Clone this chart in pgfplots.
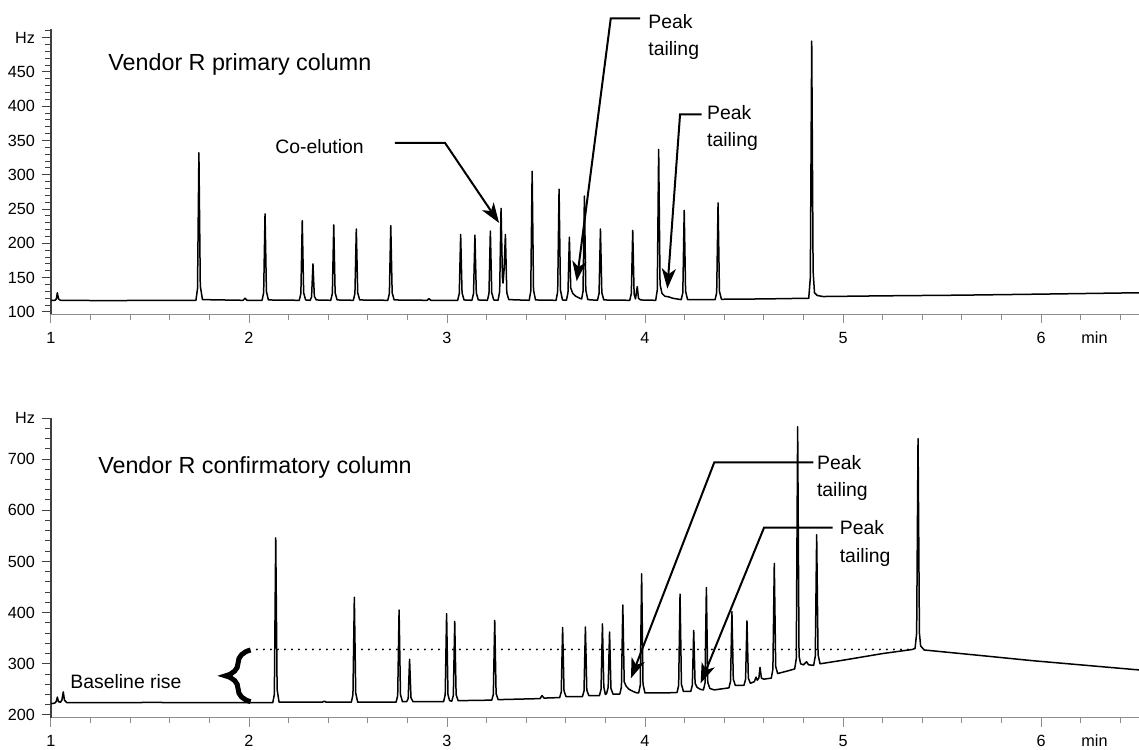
\documentclass[border=0pt]{standalone}
\usepackage{pgfplots}
\pgfplotsset{compat=1.18}
\usepackage{fontspec}
\setmainfont{Liberation Sans}
\usetikzlibrary{arrows.meta,decorations.pathreplacing}

\newcommand\tickfont{\fontsize{8.1}{9.5}\selectfont}
\newcommand\titlefont{\fontsize{11.65}{14}\selectfont}
\newcommand\notefont{\fontsize{9.7}{13.4}\selectfont}

\tikzset{note/.style={line width=1pt, -{Stealth[length=10pt,width=7pt,inset=2.8pt]}}}
\pgfplotsset{
  chrom/.style={
    scale only axis, width=544pt, anchor=south west,
    axis x line*=bottom, axis y line*=left,
    x axis line style={-, black!45, line width=0.65pt},
    y axis line style={-, black!75, line width=0.6pt},
    x tick style={black!45, line width=0.5pt},
    y tick style={black!75, line width=0.5pt},
    tick align=outside,
    major tick length=4.5pt, minor tick length=2.8pt,
    xmin=1, xmax=6.495,
    xtick={1,2,3,4,5,6}, xticklabels={1,2,3,4,5,6},
    minor xtick={1.2,1.4,1.6,1.8,2.2,2.4,2.6,2.8,3.2,3.4,3.6,3.8,4.2,4.4,4.6,4.8,5.2,5.4,5.6,5.8,6.2,6.4},
    ticklabel style={font=\tickfont},
    xticklabel style={anchor=base, yshift=-10pt},
    /pgf/number format/assume math mode=true,
    clip=false,
  },
  trace/.style={black, line width=0.75pt, line join=round, mark=none},
}

\begin{document}
\begin{tikzpicture}
\useasboundingbox (0,0) rectangle (569.5pt,374.5pt);

% ---- primary column
\begin{axis}[chrom, at={(25.5pt,217.35pt)}, height=142.8pt,
  ymin=96.6, ymax=513,
  ytick={100,150,200,250,300,350,400,450,500},
  yticklabels={100,150,200,250,300,350,400,450,Hz},
  minor ytick={110,120,130,140,160,170,180,190,210,220,230,240,260,270,280,290,310,320,330,340,360,370,380,390,410,420,430,440,460,470,480,490,510},
]
\addplot[trace] coordinates {
(1.000,117)(1.020,117)(1.027,119)(1.032,128)(1.038,119)(1.048,117)
(1.30,116.5)(1.5,117)
(1.732,117)(1.740,134)(1.747,332)(1.754,138)(1.765,118)
(1.97,117)(1.98,120)(1.99,117)
(2.066,117)(2.074,128)(2.081,243)(2.088,130)(2.098,117.5)
(2.254,117)(2.262,127)(2.269,233)(2.276,128)(2.286,117.5)
(2.309,117)(2.316,122)(2.323,170)(2.330,123)(2.340,117.5)
(2.413,117)(2.421,127)(2.428,227)(2.435,128)(2.445,117.5)
(2.527,117)(2.535,127)(2.542,221)(2.549,128)(2.559,117.5)
(2.701,117)(2.709,127)(2.716,226)(2.723,128)(2.733,117.5)
(2.900,117)(2.909,119.5)(2.918,117)
(3.054,117)(3.062,127)(3.069,213)(3.076,128)(3.086,117.5)
(3.126,117)(3.134,127)(3.141,212)(3.148,128)(3.158,117.5)
(3.204,117)(3.212,127)(3.219,218)(3.226,128)(3.236,117.5)
(3.258,117)(3.266,130)(3.273,251)(3.280,150)(3.283,142)(3.288,160)(3.295,213)(3.302,128)(3.312,118)
(3.415,117)(3.423,130)(3.430,305)(3.437,132)(3.447,117.5)
(3.551,117)(3.559,130)(3.566,279)(3.573,132)(3.583,117.5)
(3.603,117)(3.611,128)(3.618,209)(3.625,135)(3.635,127)(3.650,123)(3.670,120)(3.680,119)
(3.687,130)(3.694,269)(3.701,132)(3.711,118)
(3.760,117)(3.768,127)(3.775,221)(3.782,128)(3.792,117.5)
(3.923,117)(3.931,127)(3.938,219)(3.945,126)(3.952,119)(3.961,137)(3.967,120)(3.978,117.5)
(4.054,117)(4.062,132)(4.069,337)(4.076,140)(4.086,127)(4.100,123)(4.120,122)(4.140,120)(4.160,119)(4.183,118)
(4.191,128)(4.198,248)(4.205,130)(4.215,118)
(4.354,118)(4.362,128)(4.369,259)(4.376,130)(4.386,118.5)
(4.600,119)(4.827,120)(4.835,150)(4.842,495)(4.849,160)(4.856,128)(4.870,124)(4.900,122.5)
(5.200,123.5)(5.600,124.5)(6.000,126)(6.495,128)
};
\node[anchor=base, inner sep=0, font=\tickfont] at ([yshift=-14.6pt]axis cs:6.27,96.6) {min};
\node[anchor=base west, inner sep=0, font=\titlefont] at (axis cs:1.288,452.5) {Vendor R primary column};
\node[anchor=base west, inner sep=0, font=\notefont] at (axis cs:2.131,331) {Co-elution};
\draw[note] (axis cs:2.737,346.5) -- (axis cs:2.990,346.5) -- (axis cs:3.263,229.8);
\draw[note] (axis cs:3.975,527.9) -- (axis cs:3.827,527.9) -- (axis cs:3.655,144.8);
\draw[note] (axis cs:4.286,387.9) -- (axis cs:4.177,387.9) -- (axis cs:4.113,134);
\node[anchor=base west, inner sep=0, font=\notefont] at (axis cs:4.015,513.3) {Peak};
\node[anchor=base west, inner sep=0, font=\notefont] at (axis cs:4.015,474.4) {tailing};
\node[anchor=base west, inner sep=0, font=\notefont] at (axis cs:4.312,380.6) {Peak};
\node[anchor=base west, inner sep=0, font=\notefont] at (axis cs:4.312,341.6) {tailing};
\end{axis}

% ---- confirmatory column
\begin{axis}[chrom, at={(25.5pt,15.65pt)}, height=149.8pt,
  ymin=194.7, ymax=780,
  ytick={200,300,400,500,600,700,780},
  yticklabels={200,300,400,500,600,700,Hz},
  minor ytick={220,240,260,280,320,340,360,380,420,440,460,480,520,540,560,580,620,640,660,680,720,740,760},
]
\addplot[trace] coordinates {
(1.000,222)(1.015,223)
(1.022,224)(1.027,227)(1.032,235)(1.038,226)(1.048,225)(1.055,229)(1.062,245)(1.068,229)(1.080,224)
(1.300,224)(1.500,224.5)(1.800,224)(2.000,224)
(2.120,224)(2.128,240)(2.135,546)(2.142,250)(2.152,225)
(2.370,225)(2.380,227)(2.390,225)
(2.517,225)(2.525,240)(2.532,430)(2.539,243)(2.549,225)
(2.700,225)(2.743,225)(2.751,238)(2.758,405)(2.765,240)(2.775,226)(2.796,226)(2.804,232)(2.811,309)(2.818,234)(2.828,226)
(2.983,226)(2.991,240)(2.998,398)(3.005,240)(3.013,228)(3.024,227)(3.032,238)(3.039,383)(3.046,240)(3.056,228)
(3.226,229)(3.234,240)(3.241,385)(3.248,242)(3.258,230)
(3.470,232)(3.480,238)(3.490,233)
(3.569,234)(3.577,245)(3.584,371)(3.591,247)(3.601,236)
(3.684,236)(3.692,247)(3.699,372)(3.706,249)(3.716,238)
(3.770,238)(3.778,250)(3.785,378)(3.792,255)(3.800,240)(3.806,242)(3.814,254)(3.821,362)(3.828,252)(3.838,241)
(3.873,241)(3.881,255)(3.888,415)(3.895,265)(3.905,256)(3.920,250)(3.940,246)(3.960,243)
(3.968,243)(3.976,258)(3.983,476)(3.990,260)(4.000,243)
(4.100,243)(4.162,244)(4.170,258)(4.177,436)(4.184,260)(4.194,246)
(4.231,246)(4.239,258)(4.246,365)(4.253,262)(4.263,254)(4.280,250)(4.295,249)(4.303,262)(4.310,449)(4.317,264)(4.327,252)(4.350,249)
(4.424,253)(4.432,266)(4.439,402)(4.446,270)(4.456,258)(4.500,258)(4.508,270)(4.515,384)(4.522,272)(4.532,262)
(4.552,265)(4.561,274)(4.567,268)(4.575,272)(4.581,293)(4.588,272)(4.600,270)
(4.638,272)(4.646,290)(4.653,496)(4.660,295)(4.670,281)(4.720,286)(4.756,290)(4.764,310)(4.771,763)(4.778,315)(4.786,300)(4.800,298)(4.816,304)(4.826,298)(4.852,297)(4.860,315)(4.867,552)(4.874,318)(4.884,300)
(5.000,307)(5.200,320)(5.350,328)(5.364,330)(5.372,360)(5.379,740)(5.386,360)(5.392,335)(5.410,327)
(5.700,316)(5.960,306)(6.495,288)
};
\node[anchor=base, inner sep=0, font=\tickfont] at ([yshift=-14.6pt]axis cs:6.27,194.7) {min};
\draw[line width=1.1pt, line cap=round, dash pattern=on 0pt off 3.5pt] (axis cs:2.04,328) -- (axis cs:5.33,328);
\draw[line width=2.5pt, decorate, decoration={brace, amplitude=12.5pt}] (axis cs:2.008,226) -- (axis cs:2.008,327);
\node[anchor=base west, inner sep=0, font=\titlefont] at (axis cs:1.237,672) {Vendor R confirmatory column};
\node[anchor=base west, inner sep=0, font=\notefont] at (axis cs:1.096,252) {Baseline rise};
\draw[note] (axis cs:4.850,693.6) -- (axis cs:4.350,693.6) -- (axis cs:3.929,271.7);
\draw[note] (axis cs:4.948,565.8) -- (axis cs:4.601,565.8) -- (axis cs:4.281,261.9);
\node[anchor=base west, inner sep=0, font=\notefont] at (axis cs:4.867,680) {Peak};
\node[anchor=base west, inner sep=0, font=\notefont] at (axis cs:4.867,626) {tailing};
\node[anchor=base west, inner sep=0, font=\notefont] at (axis cs:4.982,552) {Peak};
\node[anchor=base west, inner sep=0, font=\notefont] at (axis cs:4.982,498) {tailing};
\end{axis}
\end{tikzpicture}
\end{document}
